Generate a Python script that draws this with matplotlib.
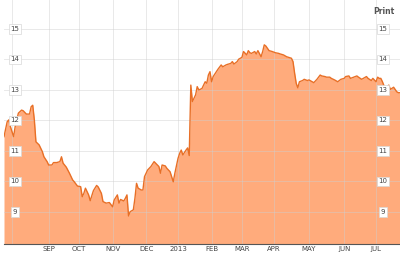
import numpy as np
import matplotlib
matplotlib.use("Agg")
import matplotlib.pyplot as plt

dates = [
    "2012-07-25", "2012-07-27", "2012-07-30", "2012-07-31", "2012-08-02", "2012-08-03",
    "2012-08-07", "2012-08-09", "2012-08-10", "2012-08-14", "2012-08-16", "2012-08-17",
    "2012-08-20", "2012-08-21", "2012-08-22", "2012-08-24", "2012-08-28", "2012-08-29",
    "2012-08-31", "2012-09-04", "2012-09-06", "2012-09-07", "2012-09-11", "2012-09-13",
    "2012-09-14", "2012-09-17", "2012-09-19", "2012-09-21", "2012-09-25", "2012-09-26",
    "2012-09-28", "2012-10-02", "2012-10-03", "2012-10-04", "2012-10-05", "2012-10-09",
    "2012-10-10", "2012-10-12", "2012-10-16", "2012-10-17", "2012-10-19", "2012-10-22",
    "2012-10-24", "2012-10-26", "2012-11-01", "2012-11-02", "2012-11-06", "2012-11-07",
    "2012-11-08", "2012-11-12", "2012-11-13", "2012-11-14", "2012-11-15", "2012-11-16",
    "2012-11-20", "2012-11-21", "2012-11-23", "2012-11-26", "2012-11-28", "2012-11-29",
    "2012-11-30", "2012-12-04", "2012-12-06", "2012-12-07", "2012-12-10", "2012-12-12",
    "2012-12-13", "2012-12-14", "2012-12-17", "2012-12-19", "2012-12-20", "2012-12-24",
    "2012-12-26", "2012-12-27", "2012-12-28", "2013-01-02", "2013-01-03", "2013-01-04",
    "2013-01-07", "2013-01-09", "2013-01-10", "2013-01-11", "2013-01-14", "2013-01-15",
    "2013-01-17", "2013-01-18", "2013-01-22", "2013-01-24", "2013-01-25", "2013-01-28",
    "2013-01-29", "2013-01-30", "2013-01-31", "2013-02-01", "2013-02-04", "2013-02-06",
    "2013-02-07", "2013-02-11", "2013-02-12", "2013-02-14", "2013-02-15", "2013-02-20",
    "2013-02-21", "2013-02-22", "2013-02-26", "2013-02-27", "2013-03-01", "2013-03-04",
    "2013-03-06", "2013-03-07", "2013-03-08", "2013-03-11", "2013-03-13", "2013-03-14",
    "2013-03-15", "2013-03-19", "2013-03-20", "2013-03-21", "2013-03-22", "2013-03-26",
    "2013-03-28", "2013-04-02", "2013-04-04", "2013-04-05", "2013-04-09", "2013-04-11",
    "2013-04-16", "2013-04-17", "2013-04-18", "2013-04-19", "2013-04-22", "2013-04-23",
    "2013-04-25", "2013-04-26", "2013-04-30", "2013-05-01", "2013-05-03", "2013-05-06",
    "2013-05-08", "2013-05-10", "2013-05-13", "2013-05-15", "2013-05-16", "2013-05-20",
    "2013-05-21", "2013-05-23", "2013-05-28", "2013-05-30", "2013-06-03", "2013-06-04",
    "2013-06-06", "2013-06-07", "2013-06-11", "2013-06-13", "2013-06-14", "2013-06-18",
    "2013-06-19", "2013-06-21", "2013-06-24", "2013-06-26", "2013-06-27", "2013-07-01",
    "2013-07-02", "2013-07-03", "2013-07-05", "2013-07-08", "2013-07-10", "2013-07-11",
    "2013-07-12", "2013-07-15", "2013-07-17", "2013-07-19", "2013-07-22", "2013-07-23",
]
values = [
    11.47, 11.96, 12.02, 11.80, 11.47, 11.80,
    12.24, 12.34, 12.32, 12.21, 12.21, 12.45,
    12.50, 12.02, 11.30, 11.20, 10.98, 10.81,
    10.65, 10.54, 10.54, 10.62, 10.62, 10.65,
    10.81, 10.60, 10.47, 10.27, 10.05, 9.99,
    9.85, 9.83, 9.50, 9.61, 9.78, 9.56,
    9.37, 9.70, 9.87, 9.82, 9.61, 9.34,
    9.29, 9.31, 9.17, 9.39, 9.56, 9.29,
    9.41, 9.36, 9.45, 9.56, 8.87, 9.01,
    9.07, 9.45, 9.94, 9.78, 9.72, 9.72,
    10.16, 10.38, 10.49, 10.57, 10.65, 10.54,
    10.49, 10.27, 10.54, 10.51, 10.43, 10.32,
    10.16, 9.99, 10.27, 10.76, 10.92, 11.03,
    10.87, 11.03, 11.10, 10.85, 13.16, 12.62,
    12.84, 13.11, 13.00, 13.05, 13.16, 13.27,
    13.22, 13.49, 13.60, 13.27, 13.44, 13.60,
    13.68, 13.82, 13.76, 13.82, 13.84, 13.87,
    13.93, 13.85, 13.93, 14.01, 14.07, 14.26,
    14.15, 14.29, 14.22, 14.20, 14.26, 14.18,
    14.29, 14.09, 14.26, 14.48, 14.44, 14.29,
    14.26, 14.22, 14.20, 14.18, 14.15, 14.09,
    14.04, 13.93, 13.55, 13.22, 13.07, 13.27,
    13.31, 13.35, 13.31, 13.33, 13.27, 13.24,
    13.35, 13.49, 13.46, 13.44, 13.42, 13.42,
    13.38, 13.33, 13.27, 13.35, 13.38, 13.44,
    13.46, 13.38, 13.42, 13.46, 13.42, 13.35,
    13.38, 13.44, 13.38, 13.31, 13.38, 13.27,
    13.42, 13.38, 13.38, 13.27, 13.00, 13.11,
    13.16, 13.02, 13.09, 12.94, 12.91, 12.91,
]
holidays = ["2012-09-03", "2012-10-29", "2012-10-30", "2012-11-22", "2012-12-25",
            "2013-01-01", "2013-01-21", "2013-02-18", "2013-03-29", "2013-05-27",
            "2013-07-04"]
month_starts = ["2012-08-01", "2012-09-01", "2012-10-01", "2012-11-01", "2012-12-01",
                "2013-01-01", "2013-02-01", "2013-03-01", "2013-04-01", "2013-05-01",
                "2013-06-01", "2013-07-01"]
month_labels = ["", "SEP", "OCT", "NOV", "DEC", "2013", "FEB", "MAR", "APR", "MAY",
                "JUN", "JUL"]
y_ticks = [9, 10, 11, 12, 13, 14, 15]

origin = "2012-08-01"
x = np.busday_count(origin, np.array(dates, dtype="datetime64[D]"), holidays=holidays)
xt = np.busday_count(origin, np.array(month_starts, dtype="datetime64[D]"), holidays=holidays)
y = np.array(values)

fig = plt.figure(figsize=(4.0, 2.54), dpi=100)
ax = fig.add_axes([4 / 400, 10 / 254, 396 / 400, 244 / 254])
ymin, ymax = 7.95, 15.95
ax.set_xlim(x[0], x[-1])
ax.set_ylim(ymin, ymax)

ax.fill_between(x, y, ymin, color="#FFAB7C", linewidth=0, zorder=1)
ax.plot(x, y, color="#E86F26", linewidth=1.0, zorder=3)

ax.set_xticks(xt)
ax.set_xticklabels(month_labels, fontsize=5, color="#444444")
ax.set_yticks(y_ticks)
ax.set_yticklabels([])
ax.tick_params(axis="both", length=0, pad=1.5)
ax.grid(True, color="#CFCFCF", linewidth=0.7, alpha=0.45, zorder=2)
ax.set_axisbelow(False)
for s in ["top", "left", "right"]:
    ax.spines[s].set_visible(False)
ax.spines["bottom"].set_color("#555555")
ax.spines["bottom"].set_linewidth(0.8)
ax.spines["bottom"].set_zorder(4)

box = dict(boxstyle="square,pad=0.25", fc="white", ec="#D8D8D8", lw=0.5)
for v in y_ticks:
    ax.text(0.028, v, str(v), transform=ax.get_yaxis_transform(), ha="center",
            va="center", fontsize=5, color="#444444", bbox=box, zorder=5)
    ax.text(0.957, v, str(v), transform=ax.get_yaxis_transform(), ha="center",
            va="center", fontsize=5, color="#444444", bbox=box, zorder=5)

fig.text(384 / 400, 1 - 12 / 254, "Print", ha="center", va="center", fontsize=5.5,
         fontweight="bold", color="#555555")

fig.savefig("out.png", dpi=100, facecolor="white")
